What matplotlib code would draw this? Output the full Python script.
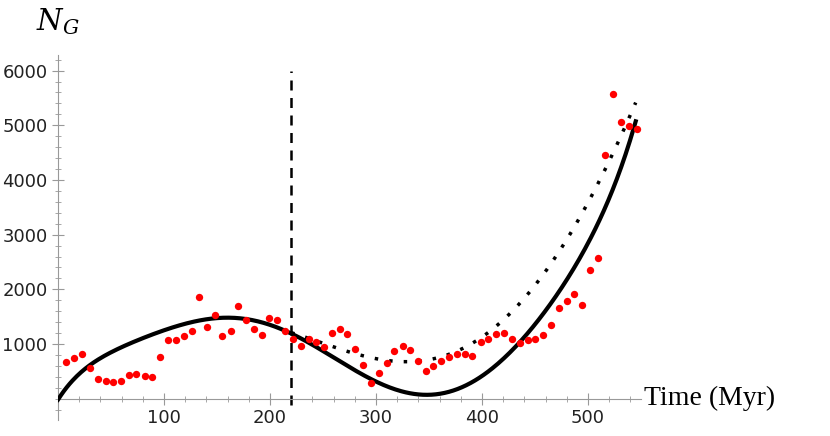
import numpy as np
import matplotlib
matplotlib.use("Agg")
import matplotlib.pyplot as plt
from matplotlib.ticker import MultipleLocator

plt.rcParams["mathtext.fontset"] = "dejavuserif"

# Data points (time in Myr, N_G)
time = [7.5, 15, 22.4, 29.8, 37.4, 45, 52, 59.7, 67, 74, 82, 89, 96.5, 104, 111, 118.5, 126,
        133, 140.5, 148, 155, 163, 170, 177, 185, 192, 199.5, 207, 214, 222, 229, 236.5,
        243.5, 250.6, 258.5, 265.7, 273, 280.5, 288, 295, 302.5, 310, 317, 325, 332, 339.6,
        347, 354, 361.6, 369, 376.5, 384, 391, 398.7, 406, 413.5, 421, 428, 435.5, 443, 450,
        458, 465, 472.6, 480, 487, 494.7, 502, 509, 516.4, 524, 531, 538.6, 546]
ng = [664, 743, 816, 554, 353, 329, 298, 329, 438, 450, 420, 390, 755, 1078, 1078, 1145, 1230,
      1851, 1303, 1529, 1151, 1230, 1699, 1431, 1267, 1169, 1480, 1443, 1242, 1084, 965, 1085,
      1045, 950, 1200, 1273, 1188, 907, 615, 280, 463, 658, 865, 968, 889, 682,
      499, 597, 694, 755, 816, 816, 779, 1035, 1090, 1175, 1206, 1084, 1011, 1072, 1090,
      1163, 1352, 1650, 1790, 1918, 1711, 2352, 2570, 4450, 5565, 5058, 4991, 4930]

# Solid fit curve, read anchor values
fit_t = [0, 30, 50, 75, 100, 125, 150, 175, 200, 220, 250, 275, 300, 325, 350, 375, 400,
         425, 450, 475, 500, 525, 545]
fit_v = [0, 560, 850, 1100, 1280, 1410, 1450, 1420, 1310, 1200, 920, 620, 320, 110, 50,
         130, 420, 820, 1380, 2050, 2850, 3850, 5100]
# Dotted fit curve after the break
dot_t = [220, 236, 251, 275, 302, 325, 347, 369, 387, 406, 431, 456, 470, 497, 518, 540, 545]
dot_v = [1200, 1127, 1000, 830, 743, 690, 700, 786, 956, 1250, 1650, 2235, 2570, 3510, 4240, 5240, 5380]
break_t = 220

fig = plt.figure(figsize=(8.3, 4.36), dpi=100)
ax = fig.add_axes([58/830, 16/436, 583/830, 365/436])

c1 = np.polyfit(fit_t, fit_v, 7)
tt = np.linspace(0, 545, 400)
ax.plot(tt, np.polyval(c1, tt), color="black", lw=3, zorder=3)
c2 = np.polyfit(dot_t, dot_v, 5)
td = np.linspace(220, 545, 300)
ax.plot(td, np.polyval(c2, td), color="black", lw=2.5, ls=(0, (1, 3.2)), zorder=3)
ax.vlines(break_t, -120, 6000, color="black", lw=1.8, ls=(0, (4, 3)), zorder=2)
ax.scatter(time, ng, s=28, color="red", zorder=4, linewidths=0)

ax.set_xlim(0, 550)
ax.set_ylim(-390, 6285)
for s in ["top", "right"]:
    ax.spines[s].set_visible(False)
for s in ["left", "bottom"]:
    ax.spines[s].set_color("#999999")
ax.spines["bottom"].set_position(("data", 0))
ax.spines["left"].set_position(("data", 0))
ax.xaxis.set_major_locator(MultipleLocator(100))
ax.xaxis.set_minor_locator(MultipleLocator(20))
ax.yaxis.set_major_locator(MultipleLocator(1000))
ax.yaxis.set_minor_locator(MultipleLocator(200))
ax.set_xticks([100, 200, 300, 400, 500])
ax.set_yticks([1000, 2000, 3000, 4000, 5000, 6000])
ax.tick_params(which="both", direction="inout", color="#999999", labelsize=13, labelcolor="#222222")
ax.tick_params(which="major", length=8)
ax.tick_params(which="minor", length=4)

fig.text(36/830, 1 - 22/436, r"$N_G$", fontsize=21, va="center")
ax.text(553, 0, "Time (Myr)", fontsize=20, family="Liberation Serif", va="center", ha="left", clip_on=False)

fig.savefig("out.png", dpi=100)
